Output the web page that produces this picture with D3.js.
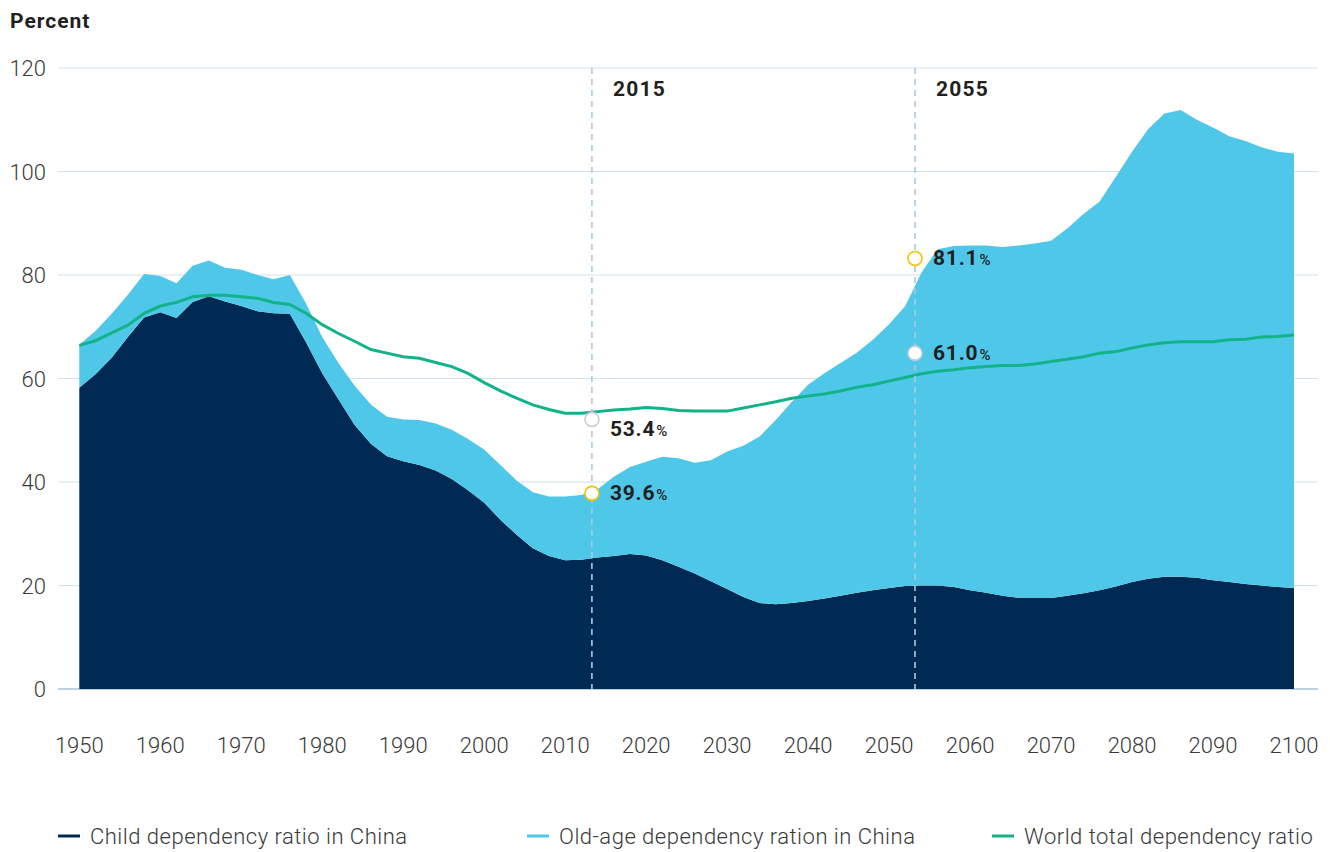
<!DOCTYPE html>
<html>
<head>
<meta charset="utf-8">
<script src="https://cdn.jsdelivr.net/npm/d3@7"></script>
<style>
  body { margin: 0; background: #fff; }
  text { font-family: Roboto, "Open Sans", sans-serif; }
</style>
</head>
<body>
<div id="chart"></div>
<script>
let w = 1330;
let h = 852;

// years, every 2 years
const years = d3.range(1950, 2101, 2);

// Child dependency ratio in China
const child = [58.2, 60.8, 64.0, 68.0, 71.8, 72.8, 71.7, 74.8, 75.9, 74.9,
  74.0, 73.0, 72.6, 72.5, 67.0, 61.0, 56.0, 51.0, 47.4, 45.0,
  44.0, 43.3, 42.2, 40.6, 38.4, 36.0, 32.7, 29.8, 27.2, 25.7,
  24.9, 25.0, 25.4, 25.7, 26.1, 25.8, 24.9, 23.6, 22.3, 20.8,
  19.3, 17.8, 16.6, 16.4, 16.6, 17.0, 17.5, 18.0, 18.6, 19.1,
  19.5, 19.9, 20.0, 20.0, 19.7, 19.1, 18.6, 18.0, 17.6, 17.6,
  17.6, 18.0, 18.5, 19.1, 19.8, 20.7, 21.3, 21.7, 21.7, 21.5,
  21.0, 20.7, 20.3, 20.0, 19.7, 19.5];

// Old-age dependency ratio in China (stacked on child)
const oldAge = [8.3, 8.4, 8.5, 8.2, 8.4, 7.0, 6.7, 7.0, 6.9, 6.5,
  7.0, 7.0, 6.6, 7.5, 7.5, 7.0, 7.0, 7.6, 7.6, 7.6,
  8.1, 8.7, 9.1, 9.5, 9.9, 10.3, 10.6, 10.5, 10.8, 11.5,
  12.3, 12.5, 13.2, 15.3, 16.8, 18.1, 20.0, 21.0, 21.4, 23.4,
  26.6, 29.2, 32.2, 35.6, 38.9, 41.8, 43.5, 45.0, 46.4, 48.4,
  51.0, 54.1, 60.5, 65.0, 65.9, 66.6, 67.1, 67.4, 68.1, 68.5,
  69.0, 71.0, 73.3, 75.1, 79.2, 83.1, 86.9, 89.5, 90.2, 88.5,
  87.5, 86.1, 85.6, 84.7, 84.1, 84.0];

// World total dependency ratio
const world = [66.4, 67.3, 68.8, 70.3, 72.6, 74.0, 74.7, 75.8, 76.1, 76.1,
  75.8, 75.5, 74.7, 74.3, 72.6, 70.4, 68.7, 67.2, 65.6, 64.9,
  64.2, 63.9, 63.1, 62.3, 61.0, 59.2, 57.6, 56.2, 54.9, 54.0,
  53.3, 53.3, 53.6, 53.9, 54.1, 54.4, 54.2, 53.8, 53.7, 53.7,
  53.7, 54.3, 54.9, 55.5, 56.2, 56.6, 57.0, 57.6, 58.3, 58.8,
  59.5, 60.2, 60.9, 61.4, 61.7, 62.1, 62.3, 62.5, 62.5, 62.8,
  63.3, 63.7, 64.2, 64.9, 65.2, 65.9, 66.5, 66.9, 67.1, 67.1,
  67.1, 67.5, 67.6, 68.0, 68.1, 68.4];

const yTicks = [0, 20, 40, 60, 80, 100, 120];
const xTicks = d3.range(1950, 2101, 10);

// highlighted years (position on the axis) and their labels
const markerYears = [2013.3, 2053.2];
const markerLabels = ["2015", "2055"];
// circles: [year, value, kind, label]
const markerPoints = [
  [2013.3, 52.1, "world", "53.4"],
  [2013.3, 37.8, "china", "39.6"],
  [2053.2, 83.2, "china", "81.1"],
  [2053.2, 64.9, "world", "61.0"]
];

const seriesNames = ["Child dependency ratio in China", "Old-age dependency ration in China", "World total dependency ratio"];
const colors = ["#002a54", "#4fc7e8", "#12b388"];

let svg = d3.select("#chart")
    .append("svg")
    .attr("width", w)
    .attr("height", h);

let x = d3.scaleLinear().domain([1950, 2100]).range([79.3, 1294]);
let y = d3.scaleLinear().domain([0, 120]).range([689, 68]);

// gridlines
svg.append("g")
    .selectAll("line")
    .data(yTicks)
    .enter()
    .append("line")
    .attr("x1", 58)
    .attr("x2", 1318)
    .attr("y1", d => y(d))
    .attr("y2", d => y(d))
    .attr("stroke", d => d === 0 ? "#bcd3de" : "#d3e2ea")
    .attr("stroke-width", d => d === 0 ? 2 : 1.2);

// y labels
svg.append("g")
    .selectAll("text")
    .data(yTicks)
    .enter()
    .append("text")
    .attr("x", 46)
    .attr("y", d => y(d) + 8)
    .attr("text-anchor", "end")
    .attr("font-size", 22)
    .attr("font-weight", 300)
    .attr("fill", "#3a3a3a")
    .text(d => d);

// x labels
svg.append("g")
    .selectAll("text")
    .data(xTicks)
    .enter()
    .append("text")
    .attr("x", d => x(d))
    .attr("y", 753)
    .attr("text-anchor", "middle")
    .attr("font-size", 22)
    .attr("font-weight", 300)
    .attr("fill", "#3a3a3a")
    .text(d => d);

svg.append("text")
    .attr("x", 10)
    .attr("y", 28)
    .attr("font-size", 21)
    .attr("font-weight", 700)
    .attr("letter-spacing", 1)
    .attr("fill", "#231f20")
    .text("Percent");

// stacked areas
let table = years.map((yr, i) => ({year: yr, child: child[i], oldAge: oldAge[i]}));
let stack = d3.stack().keys(["child", "oldAge"]);
let layers = stack(table);

let area = d3.area()
    .x(d => x(d.data.year))
    .y0(d => y(d[0]))
    .y1(d => y(d[1]));

svg.append("g")
    .selectAll("path")
    .data(layers)
    .enter()
    .append("path")
    .attr("d", area)
    .attr("fill", (d, i) => colors[i]);

// world line
let line = d3.line()
    .x((d, i) => x(years[i]))
    .y(d => y(d));

svg.append("path")
    .datum(world)
    .attr("d", line)
    .attr("fill", "none")
    .attr("stroke", colors[2])
    .attr("stroke-width", 3);

// marker lines
svg.append("g")
    .selectAll("line")
    .data(markerYears)
    .enter()
    .append("line")
    .attr("x1", d => x(d))
    .attr("x2", d => x(d))
    .attr("y1", y(120))
    .attr("y2", y(0))
    .attr("stroke", "#a9cbdc")
    .attr("stroke-width", 1.6)
    .attr("stroke-dasharray", "6,5");

svg.append("g")
    .selectAll("text")
    .data(markerYears)
    .enter()
    .append("text")
    .attr("x", d => x(d) + 21)
    .attr("y", 96)
    .attr("font-size", 21)
    .attr("font-weight", 700)
    .attr("letter-spacing", 1.2)
    .attr("fill", "#231f20")
    .text((d, i) => markerLabels[i]);

// marker circles and values
let pts = svg.append("g")
    .selectAll("g")
    .data(markerPoints)
    .enter()
    .append("g");

pts.append("circle")
    .attr("cx", d => x(d[0]))
    .attr("cy", d => y(d[1]))
    .attr("r", 7)
    .attr("fill", "#fff")
    .attr("stroke", d => d[2] === "china" ? "#f5c300" : "#c4ced6")
    .attr("stroke-width", 1.6);

let lbl = pts.append("text")
    .attr("x", d => x(d[0]) + 18)
    .attr("y", d => y(d[1]) + (d[0] < 2030 && d[2] === "world" ? 17 : 7))
    .attr("fill", "#231f20")
    .attr("font-weight", 700);
lbl.append("tspan")
    .attr("font-size", 21)
    .attr("letter-spacing", 0.8)
    .text(d => d[3]);
lbl.append("tspan")
    .attr("font-size", 15)
    .attr("font-weight", 500)
    .attr("dx", 1)
    .text("%");

// legend
const legendX = [58, 527, 992];
let leg = svg.append("g")
    .selectAll("g")
    .data(seriesNames)
    .enter()
    .append("g")
    .attr("transform", (d, i) => `translate(${legendX[i]},836)`);

leg.append("line")
    .attr("x1", 0)
    .attr("x2", 22)
    .attr("y1", 0)
    .attr("y2", 0)
    .attr("stroke", (d, i) => colors[i])
    .attr("stroke-width", 3);

leg.append("text")
    .attr("x", 32)
    .attr("y", 8)
    .attr("font-size", 22)
    .attr("font-weight", 300)
    .attr("letter-spacing", 0.5)
    .attr("fill", "#3a3a3a")
    .text(d => d);
</script>
</body>
</html>
